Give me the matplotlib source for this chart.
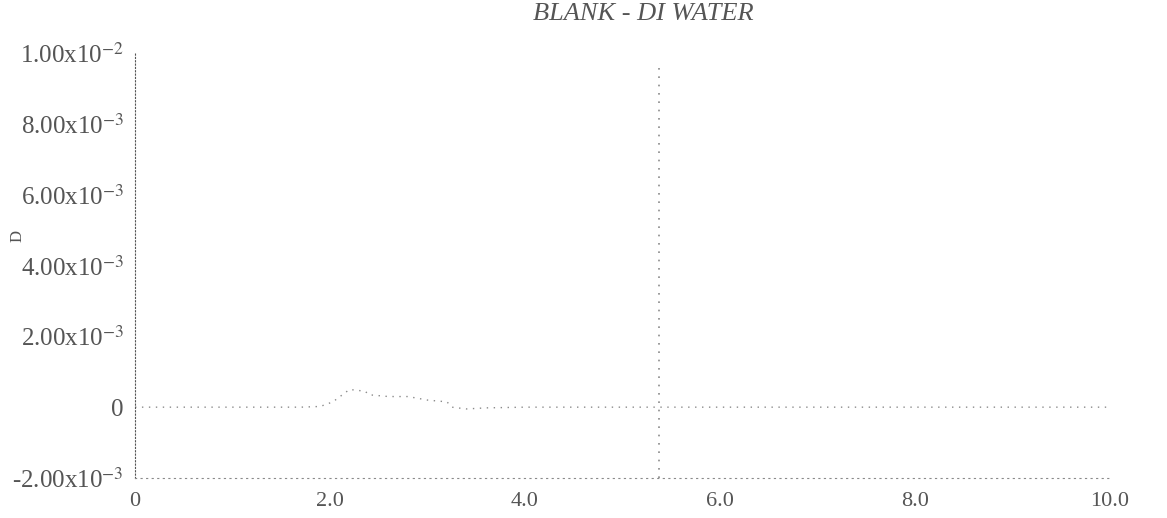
import matplotlib
matplotlib.use('Agg')
import matplotlib.pyplot as plt

# trace (time vs signal)
time = [0.0, 0.5, 1.0, 1.5, 1.7, 1.9, 2.03, 2.2, 2.36, 2.4, 2.6, 2.8, 3.0, 3.2, 3.25, 3.4,
        3.6, 4.0, 5.0, 6.0, 7.0, 8.0, 9.0, 10.0]
signal = [0.0, 0.0, 0.0, 0.0, 0.0, 0.02e-3, 0.15e-3, 0.5e-3, 0.45e-3, 0.35e-3, 0.3e-3, 0.3e-3,
          0.2e-3, 0.15e-3, 0.0, -0.05e-3, -0.02e-3, 0.0, 0.0, 0.0, 0.0, 0.0, 0.0, 0.0]
marker_x = 5.37

xticks = [0, 2, 4, 6, 8, 10]
xtick_labels = ['0', '2.0', '4.0', '6.0', '8.0', '10.0']
yticks = [-2e-3, 0, 2e-3, 4e-3, 6e-3, 8e-3, 1e-2]
ytick_labels = [r'-2.00x10$^{-3}$', '0', r'2.00x10$^{-3}$', r'4.00x10$^{-3}$',
                r'6.00x10$^{-3}$', r'8.00x10$^{-3}$', r'1.00x10$^{-2}$']

plt.rcParams['font.family'] = 'Liberation Serif'
plt.rcParams['mathtext.fontset'] = 'stix'

grey = '#8a8a8a'
dots = (0, (1, 4))

fig = plt.figure(figsize=(11.67, 5.18), dpi=100)
ax = fig.add_axes([135 / 1167, 1 - 478 / 518, (1110 - 135) / 1167, (478 - 53) / 518])

ax.plot(time, signal, color=grey, linestyle=dots, linewidth=1)
ax.plot([marker_x, marker_x], [-2e-3, 0.0097], color=grey, linestyle=dots, linewidth=1.2)

ax.set_xlim(0, 10)
ax.set_ylim(-2e-3, 1e-2)
ax.set_xticks(xticks)
ax.set_xticklabels(xtick_labels, fontsize=16, color='#555555')
ax.set_yticks(yticks)
ax.set_yticklabels(ytick_labels, fontsize=18, color='#555555')
ax.tick_params(length=0)
ax.tick_params(axis='x', pad=10)
ax.tick_params(axis='y', pad=8)

for side in ['top', 'right']:
    ax.spines[side].set_visible(False)
ax.spines['left'].set_color('#555555')
ax.spines['left'].set_linestyle((0, (1, 2)))
ax.spines['bottom'].set_color(grey)
ax.spines['bottom'].set_linestyle(dots)

ax.set_ylabel('D', fontsize=12, color='#555555')
ax.yaxis.set_label_coords(-0.112, 0.57)

fig.text(643 / 1167, 1 - 14 / 518, 'BLANK - DI WATER', ha='center', va='center',
         fontsize=19, style='italic', color='#555555')

fig.savefig('out.png', dpi=100)
